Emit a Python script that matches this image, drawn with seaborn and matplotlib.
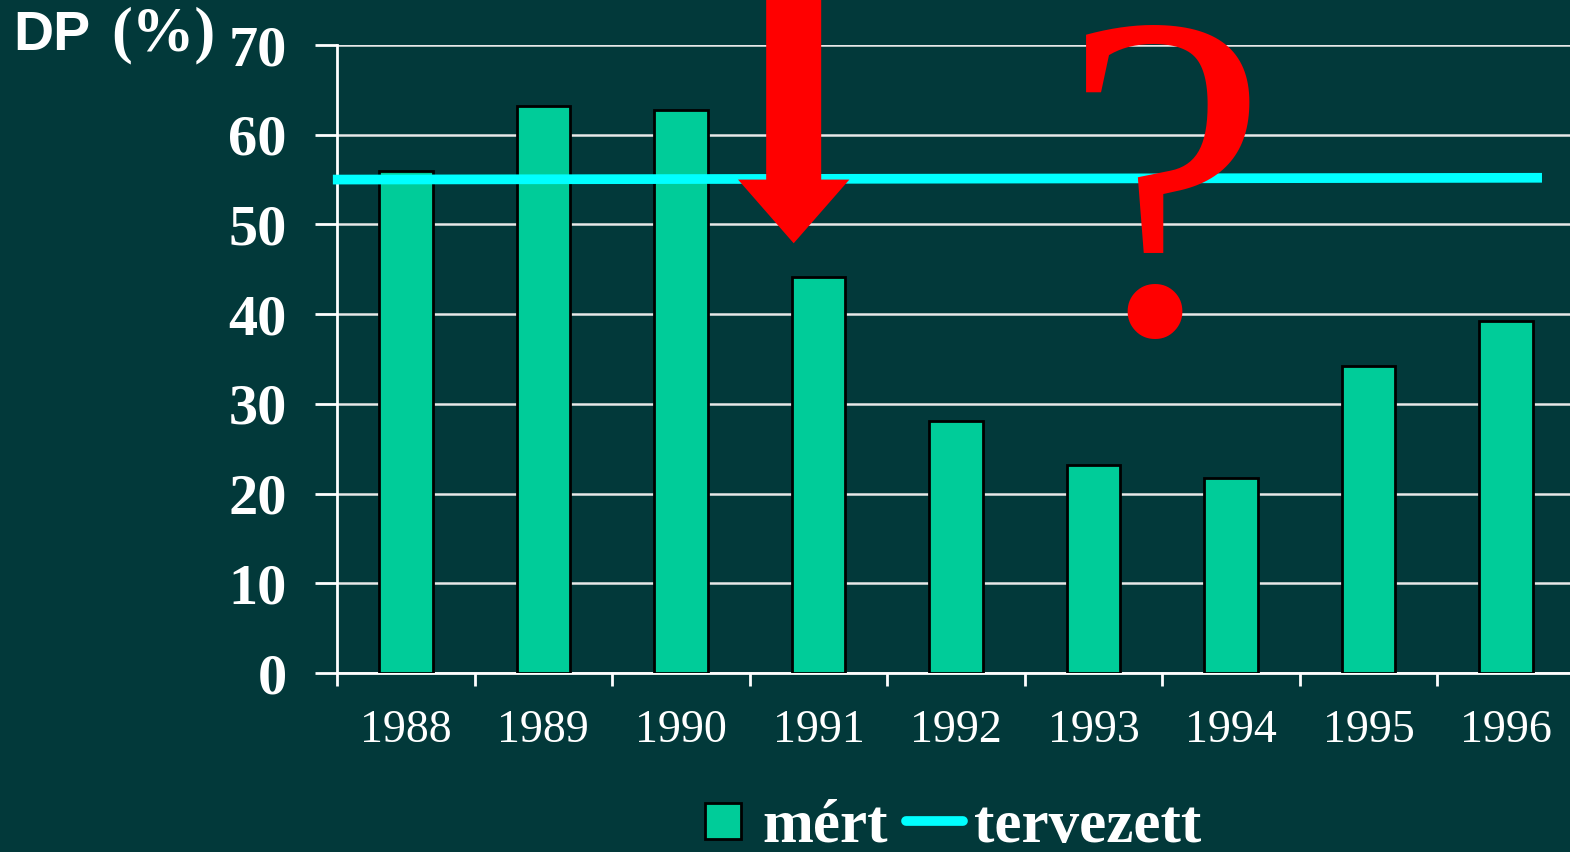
import matplotlib
matplotlib.use("Agg")
import matplotlib.pyplot as plt
import seaborn as sns
import pandas as pd
import numpy as np
from matplotlib.patches import FancyArrow
from matplotlib.lines import Line2D

# data
years = ['1988', '1989', '1990', '1991', '1992', '1993', '1994', '1995', '1996']
mert = [55.9, 63.2, 62.7, 44.1, 28.1, 23.2, 21.7, 34.2, 39.2]
terv_x = [-0.53, 8.26]
terv_y = [55.0, 55.2]
yticks = [0, 10, 20, 30, 40, 50, 60, 70]

bg = '#02393A'
bar_col = '#00CC99'
line_col = '#00FFFF'

sns.set_theme(style="ticks")
plt.rcParams['font.family'] = ['Liberation Serif', 'DejaVu Serif']

df = pd.DataFrame({'year': years, 'mert': mert})

fig = plt.figure(figsize=(15.7, 8.52), dpi=100, facecolor=bg)
ax = fig.add_axes([337/1570, 179/852, 1238/1570, 628/852])
ax.set_facecolor(bg)

sns.barplot(data=df, x='year', y='mert', color=bar_col, width=0.39,
            edgecolor='black', linewidth=2, saturation=1, ax=ax, zorder=3)

ax.plot(terv_x, terv_y, color=line_col, lw=7, zorder=4, clip_on=False,
        solid_capstyle='butt')

ax.set_ylim(0, 70)
ax.set_xlim(-0.5, 8.5)
ax.set_yticks(yticks)
ax.yaxis.grid(True, color='#E8E8E8', lw=1.8, zorder=1)
ax.set_axisbelow(True)

ax.set_xlabel('')
ax.set_ylabel('')
for s in ['top', 'right']:
    ax.spines[s].set_visible(False)
for s in ['left', 'bottom']:
    ax.spines[s].set_color('white')
    ax.spines[s].set_linewidth(2)

ax.tick_params(axis='y', colors='white', length=16, width=2, pad=20, labelsize=42)
for lab in ax.get_yticklabels():
    lab.set_fontweight('bold')
ax.tick_params(axis='x', which='major', length=0, pad=26, labelsize=33, labelcolor='white')
ax.set_xticks(np.arange(-0.5, 9.0, 1.0), minor=True)
ax.tick_params(axis='x', which='minor', length=9, width=2, color='white')

# red arrow pointing down at 1991
arr = FancyArrow(2.82, 76, 0, -28.1, width=0.40, head_width=0.81,
                 head_length=7.1, length_includes_head=True,
                 color='red', lw=0, zorder=6, clip_on=False)
ax.add_patch(arr)

# big red question mark
ax.text(5.52, 38.0, '?', color='red', fontsize=335, ha='center',
        va='baseline', family='Liberation Serif', zorder=6, clip_on=False)

# axis title
fig.text(13/1570, 1 - 50/852, 'DP', color='white', fontsize=40,
         fontweight='bold', family='Liberation Sans', va='baseline')
fig.text(111/1570, 1 - 50/852, '(%)', color='white', fontsize=45,
         fontweight='bold', va='baseline')

handles = [Line2D([], [], marker='s', markersize=26, markerfacecolor=bar_col,
                  markeredgecolor='black', markeredgewidth=2, linestyle='none'),
           Line2D([0], [0], color=line_col, lw=7)]
leg = fig.legend(handles, ['mért', 'tervezett'], loc='center',
                 bbox_to_anchor=(948/1570, 1 - 827/852), ncol=2, frameon=False,
                 prop={'size': 44, 'weight': 'bold'}, handlelength=0.93,
                 handletextpad=0.18, columnspacing=0.3)
for t in leg.get_texts():
    t.set_color('white')

fig.savefig('out.png', dpi=100, facecolor=bg)
